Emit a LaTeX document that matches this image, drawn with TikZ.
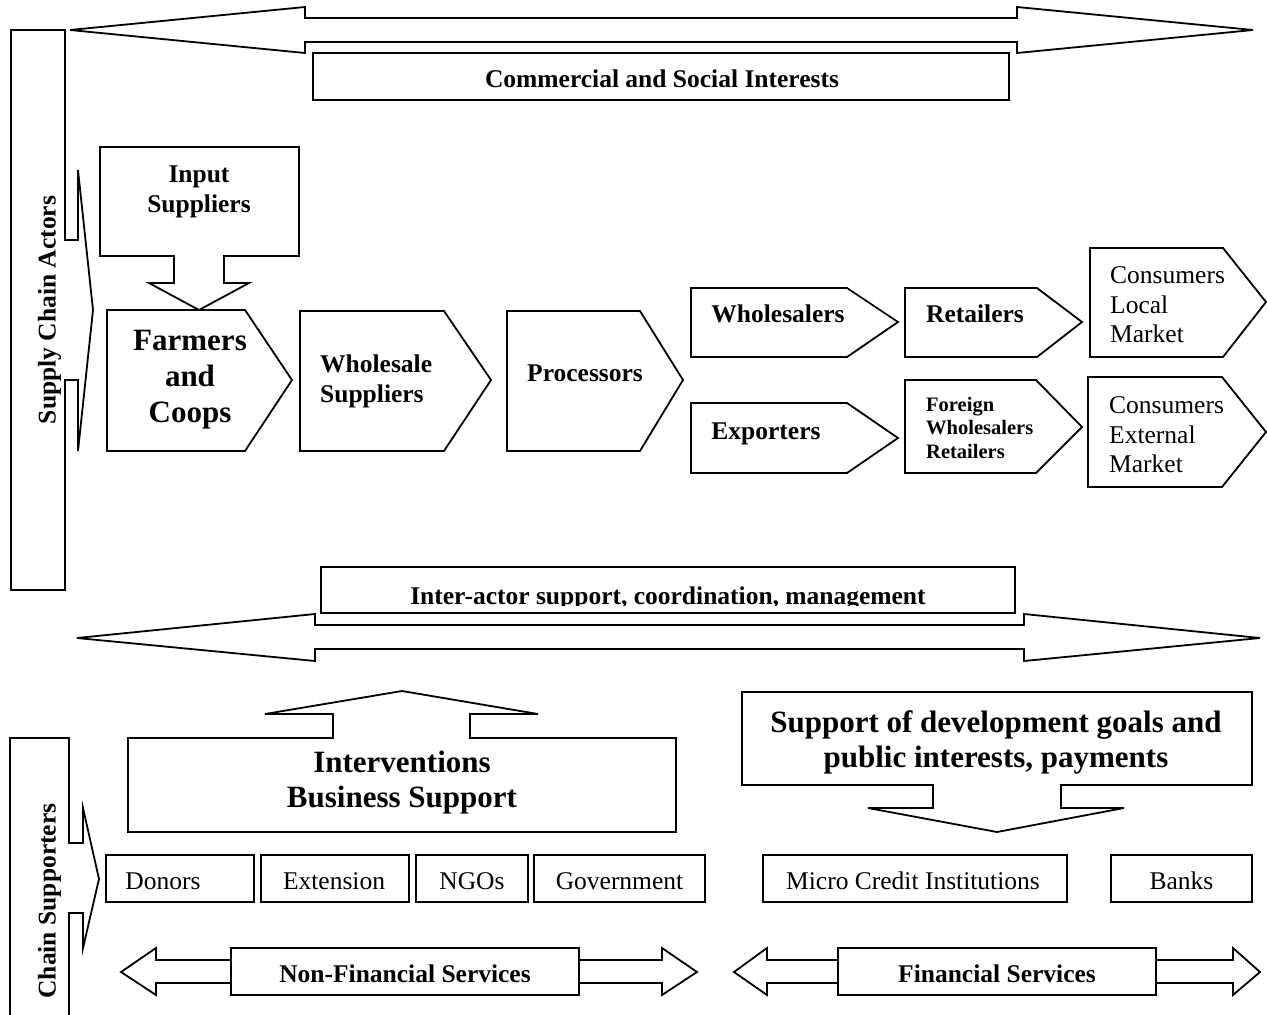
\documentclass[tikz,border=0pt]{standalone}
\usepackage{fontspec}
\setmainfont{Liberation Serif}
\begin{document}
\begin{tikzpicture}[x=1pt,y=-1pt,
  shp/.style={draw=black,line width=1.8pt,fill=white,line join=miter},
  med/.style={font=\bfseries\fontsize{25.5}{30}\selectfont,inner sep=0pt},
  big/.style={font=\bfseries\fontsize{31}{36}\selectfont,inner sep=0pt},
  small/.style={font=\bfseries\fontsize{20.5}{23.5}\selectfont,inner sep=0pt},
  reg/.style={font=\fontsize{25.5}{29.5}\selectfont,inner sep=0pt}]
\useasboundingbox (0,0) rectangle (1267,1015);
\clip (0,0) rectangle (1267,1015);
\fill[white] (0,0) rectangle (1267,1015);

% top double arrow and commercial box
\draw[shp] (70,30) -- (305,7) -- (305,18) -- (1017,18) -- (1017,7) -- (1253,30) -- (1017,53) -- (1017,42) -- (305,42) -- (305,53) -- cycle;
\draw[shp] (313,53) rectangle (1009,100);
\node[med,anchor=base] (comm) at (662,87) {Commercial and Social Interests};

% supply chain actors bracket
\draw[shp] (11,30) -- (65,30) -- (65,240) -- (78,240) -- (78,170) -- (93,310) -- (78,451) -- (78,380) -- (65,380) -- (65,590) -- (11,590) -- cycle;
\node[med,anchor=base,rotate=90] (sca) at (55.5,310) {Supply Chain Actors};

% input suppliers
\draw[shp] (100,147) -- (299,147) -- (299,256) -- (224,256) -- (224,283) -- (249,283) -- (199,310) -- (149,283) -- (174,283) -- (174,256) -- (100,256) -- cycle;
\node[med,anchor=base,align=center] (inp) at (199,212.5) {Input\\Suppliers};

% chain pentagons
\newcommand\pentagon[6]{\draw[shp] (#1,#2) -- (#4,#2) -- (#5,#6) -- (#4,#3) -- (#1,#3) -- cycle;}
\pentagon{107}{310}{451}{245}{292}{380}
\node[big,anchor=base,align=center] (farm) at (190,422) {Farmers\\and\\Coops};
\pentagon{300}{311}{451}{444}{491}{380}
\node[med,anchor=base west,align=left] (whs) at (320,402.5) {Wholesale\\Suppliers};
\pentagon{507}{311}{451}{640}{683}{380}
\node[med,anchor=base] (proc) at (585,381.5) {Processors};
\pentagon{691}{288}{357}{847}{898}{322}
\node[med,anchor=base] (whl) at (778,322.5) {Wholesalers};
\pentagon{905}{288}{357}{1037}{1082}{322}
\node[med,anchor=base] (ret) at (975,322.5) {Retailers};
\pentagon{1090}{248}{357}{1223}{1266}{302}
\node[reg,anchor=base west,align=left] (cloc) at (1110,342.5) {Consumers\\Local\\Market};
\pentagon{691}{403}{473}{847}{898}{438}
\node[med,anchor=base] (exp) at (766,439.5) {Exporters};
\pentagon{905}{380}{473}{1036}{1082}{427}
\node[small,anchor=base west,align=left] (for) at (926,458) {Foreign\\Wholesalers\\Retailers};
\pentagon{1088}{377}{487}{1222}{1266}{432}
\node[reg,anchor=base west,align=left] (cext) at (1109,472.5) {Consumers\\External\\Market};

% inter-actor
\draw[shp] (77,638) -- (315,614) -- (315,625) -- (1024,625) -- (1024,614) -- (1260,638) -- (1024,661) -- (1024,649) -- (315,649) -- (315,661) -- cycle;
\draw[shp] (321,567) rectangle (1015,613);
\begin{scope}
\clip (321,567) rectangle (1015,605);
\node[med,anchor=base] (inter) at (668,604) {Inter-actor support, coordination, management};
\end{scope}

% chain supporters bracket
\draw[shp] (10,1040) -- (10,738) -- (69,738) -- (69,843) -- (83,843) -- (83,808) -- (99,879) -- (83,948) -- (83,913) -- (69,913) -- (69,1040);
\node[med,anchor=base,rotate=90] (cs) at (55.5,901) {Chain Supporters};

% interventions
\draw[shp] (128,738) -- (333,738) -- (333,714) -- (265,714) -- (402,691) -- (538,714) -- (470,714) -- (470,738) -- (676,738) -- (676,832) -- (128,832) -- cycle;
\node[big,anchor=base,align=center,font=\bfseries\fontsize{31}{35}\selectfont] (intv) at (402,807) {Interventions\\Business Support};

% support of development goals
\draw[shp] (742,692) -- (1252,692) -- (1252,785) -- (1061,785) -- (1061,808) -- (1124,808) -- (997,832) -- (868,808) -- (933,808) -- (933,785) -- (742,785) -- cycle;
\node[big,anchor=base,align=center,font=\bfseries\fontsize{31}{35}\selectfont] (supp) at (996,767) {Support of development goals and\\public interests, payments};

% actor boxes
\draw[shp] (106,855) rectangle (254,902);
\node[reg,anchor=base] (don) at (163,889.5) {Donors};
\draw[shp] (261,855) rectangle (409,902);
\node[reg,anchor=base] (ext) at (334,889.5) {Extension};
\draw[shp] (416,855) rectangle (528,902);
\node[reg,anchor=base] (ngo) at (472,889.5) {NGOs};
\draw[shp] (534,855) rectangle (705,902);
\node[reg,anchor=base] (gov) at (619.5,889.5) {Government};
\draw[shp] (763,855) rectangle (1067,902);
\node[reg,anchor=base] (mci) at (913,889.5) {Micro Credit Institutions};
\draw[shp] (1111,855) rectangle (1252,902);
\node[reg,anchor=base] (bank) at (1181.5,889.5) {Banks};

% services arrows
\draw[shp] (121,972) -- (156,948) -- (156,960) -- (662,960) -- (662,948) -- (697,972) -- (662,995) -- (662,983) -- (156,983) -- (156,995) -- cycle;
\draw[shp] (231,948) rectangle (579,995);
\node[med,anchor=base] (nfs) at (405,982.5) {Non-Financial Services};
\draw[shp] (734,972) -- (767,948) -- (767,960) -- (1233,960) -- (1233,948) -- (1260,972) -- (1233,995) -- (1233,983) -- (767,983) -- (767,995) -- cycle;
\draw[shp] (838,948) rectangle (1156,995);
\node[med,anchor=base] (fs) at (997,982.5) {Financial Services};
\end{tikzpicture}
\end{document}
